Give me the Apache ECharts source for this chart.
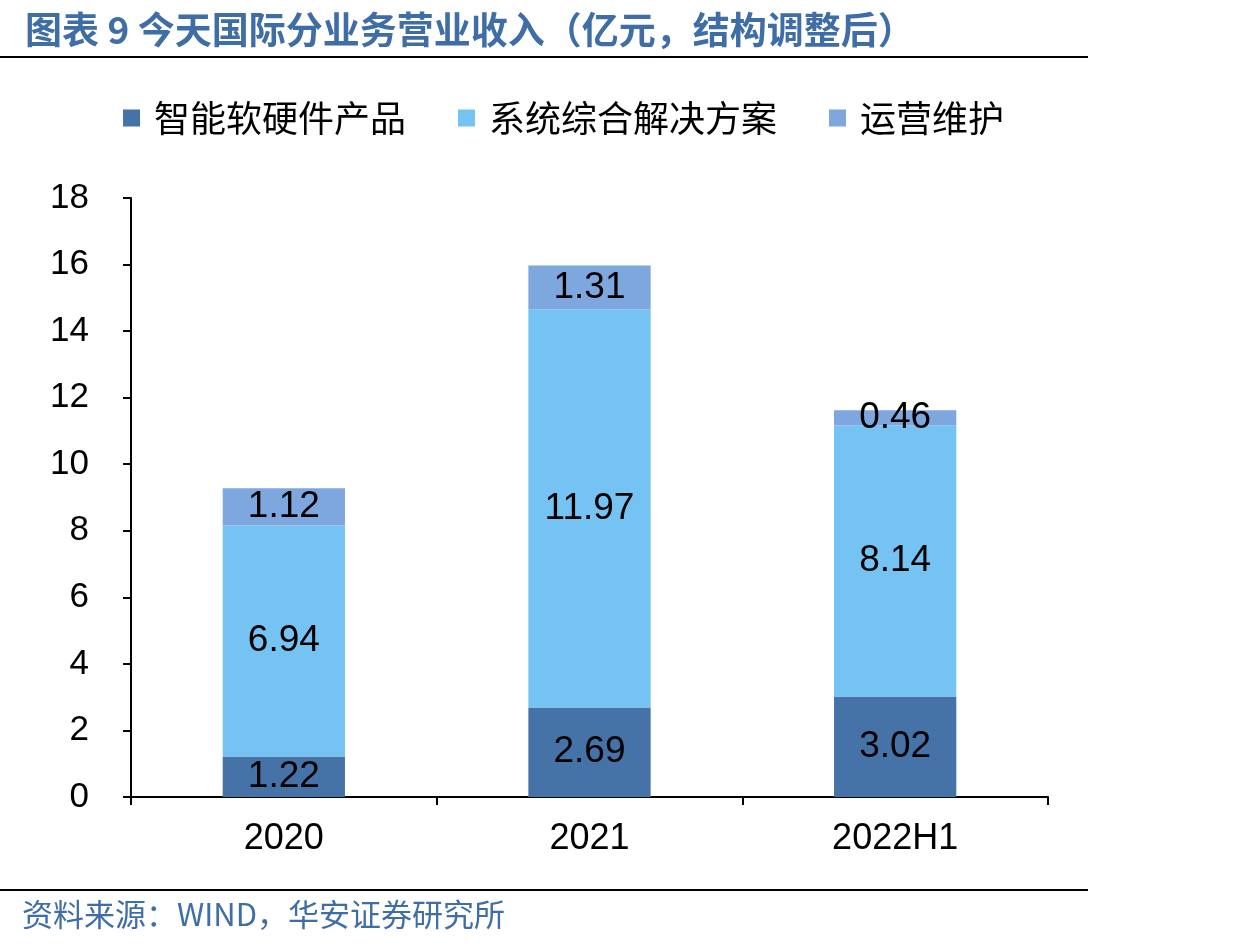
<!DOCTYPE html>
<html>
<head>
<meta charset="utf-8">
<script src="https://cdn.jsdelivr.net/npm/echarts@6/dist/echarts.min.js"></script>
<style>
  html, body { margin: 0; padding: 0; background: #fff; }
  #main { width: 1246px; height: 950px; }
</style>
</head>
<body>
<div id="main"></div>
<script>
// 数据
var years = ['2020', '2021', '2022H1'];
var hardware = [1.22, 2.69, 3.02];   // 智能软硬件产品
var solution = [6.94, 11.97, 8.14];  // 系统综合解决方案
var maintain = [1.12, 1.31, 0.46];   // 运营维护
var seriesNames = ['智能软硬件产品', '系统综合解决方案', '运营维护'];

var titleBlue = '#3F6DA6';
var labelFont = 'Liberation Sans, Arial, sans-serif';
var cjkFont = 'Noto Sans CJK SC';

function barSeries(name, data, color) {
    return {
        name: name,
        type: 'bar',
        stack: 'total',
        barWidth: '40%',
        data: data,
        itemStyle: { color: color },
        label: {
            show: true,
            position: 'inside',
            color: '#000',
            fontSize: 37,
            fontFamily: labelFont,
            formatter: function (p) { return p.value.toFixed(2); }
        }
    };
}

var option = {
    backgroundColor: '#fff',
    animation: false,
    title: {
        text: '图表 9 今天国际分业务营业收入（亿元，结构调整后）',
        left: 20,
        top: 6,
        textStyle: {
            color: titleBlue,
            fontFamily: cjkFont,
            fontWeight: 'bold',
            fontSize: 37
        }
    },
    legend: {
        top: 95,
        left: 118,
        itemWidth: 17,
        itemHeight: 17,
        itemGap: 52,
        icon: 'rect',
        data: seriesNames,
        textStyle: {
            color: '#000',
            fontFamily: cjkFont,
            fontSize: 36,
            padding: [0, 0, 0, 9]
        }
    },
    grid: {
        left: 131,
        right: 198,
        top: 198,
        bottom: 153,
        containLabel: false
    },
    xAxis: {
        type: 'category',
        data: years,
        axisLine: { lineStyle: { color: '#000', width: 2 } },
        axisTick: { show: true, length: 8, lineStyle: { color: '#000', width: 2 } },
        axisLabel: { color: '#000', fontSize: 36, fontFamily: labelFont, margin: 24 }
    },
    yAxis: {
        type: 'value',
        min: 0,
        max: 18,
        interval: 2,
        axisLine: { show: true, lineStyle: { color: '#000', width: 2 } },
        axisTick: { show: true, length: 8, lineStyle: { color: '#000', width: 2 } },
        axisLabel: { color: '#000', fontSize: 35, fontFamily: labelFont, margin: 42 },
        splitLine: { show: false }
    },
    series: [
        barSeries(seriesNames[0], hardware, '#4572A7'),
        barSeries(seriesNames[1], solution, '#75C3F3'),
        barSeries(seriesNames[2], maintain, '#7EA6DF')
    ],
    graphic: [
        {
            type: 'line',
            shape: { x1: 0, y1: 57, x2: 1088, y2: 57 },
            style: { stroke: '#000', lineWidth: 2 }
        },
        {
            type: 'line',
            shape: { x1: 0, y1: 890, x2: 1088, y2: 890 },
            style: { stroke: '#000', lineWidth: 2 }
        },
        {
            type: 'text',
            left: 22,
            top: 899,
            style: {
                text: '资料来源：WIND，华安证券研究所',
                fill: titleBlue,
                font: '31px "Noto Sans CJK SC"'
            }
        }
    ]
};

var chart = echarts.init(document.getElementById('main'));
chart.setOption(option);
</script>
</body>
</html>
